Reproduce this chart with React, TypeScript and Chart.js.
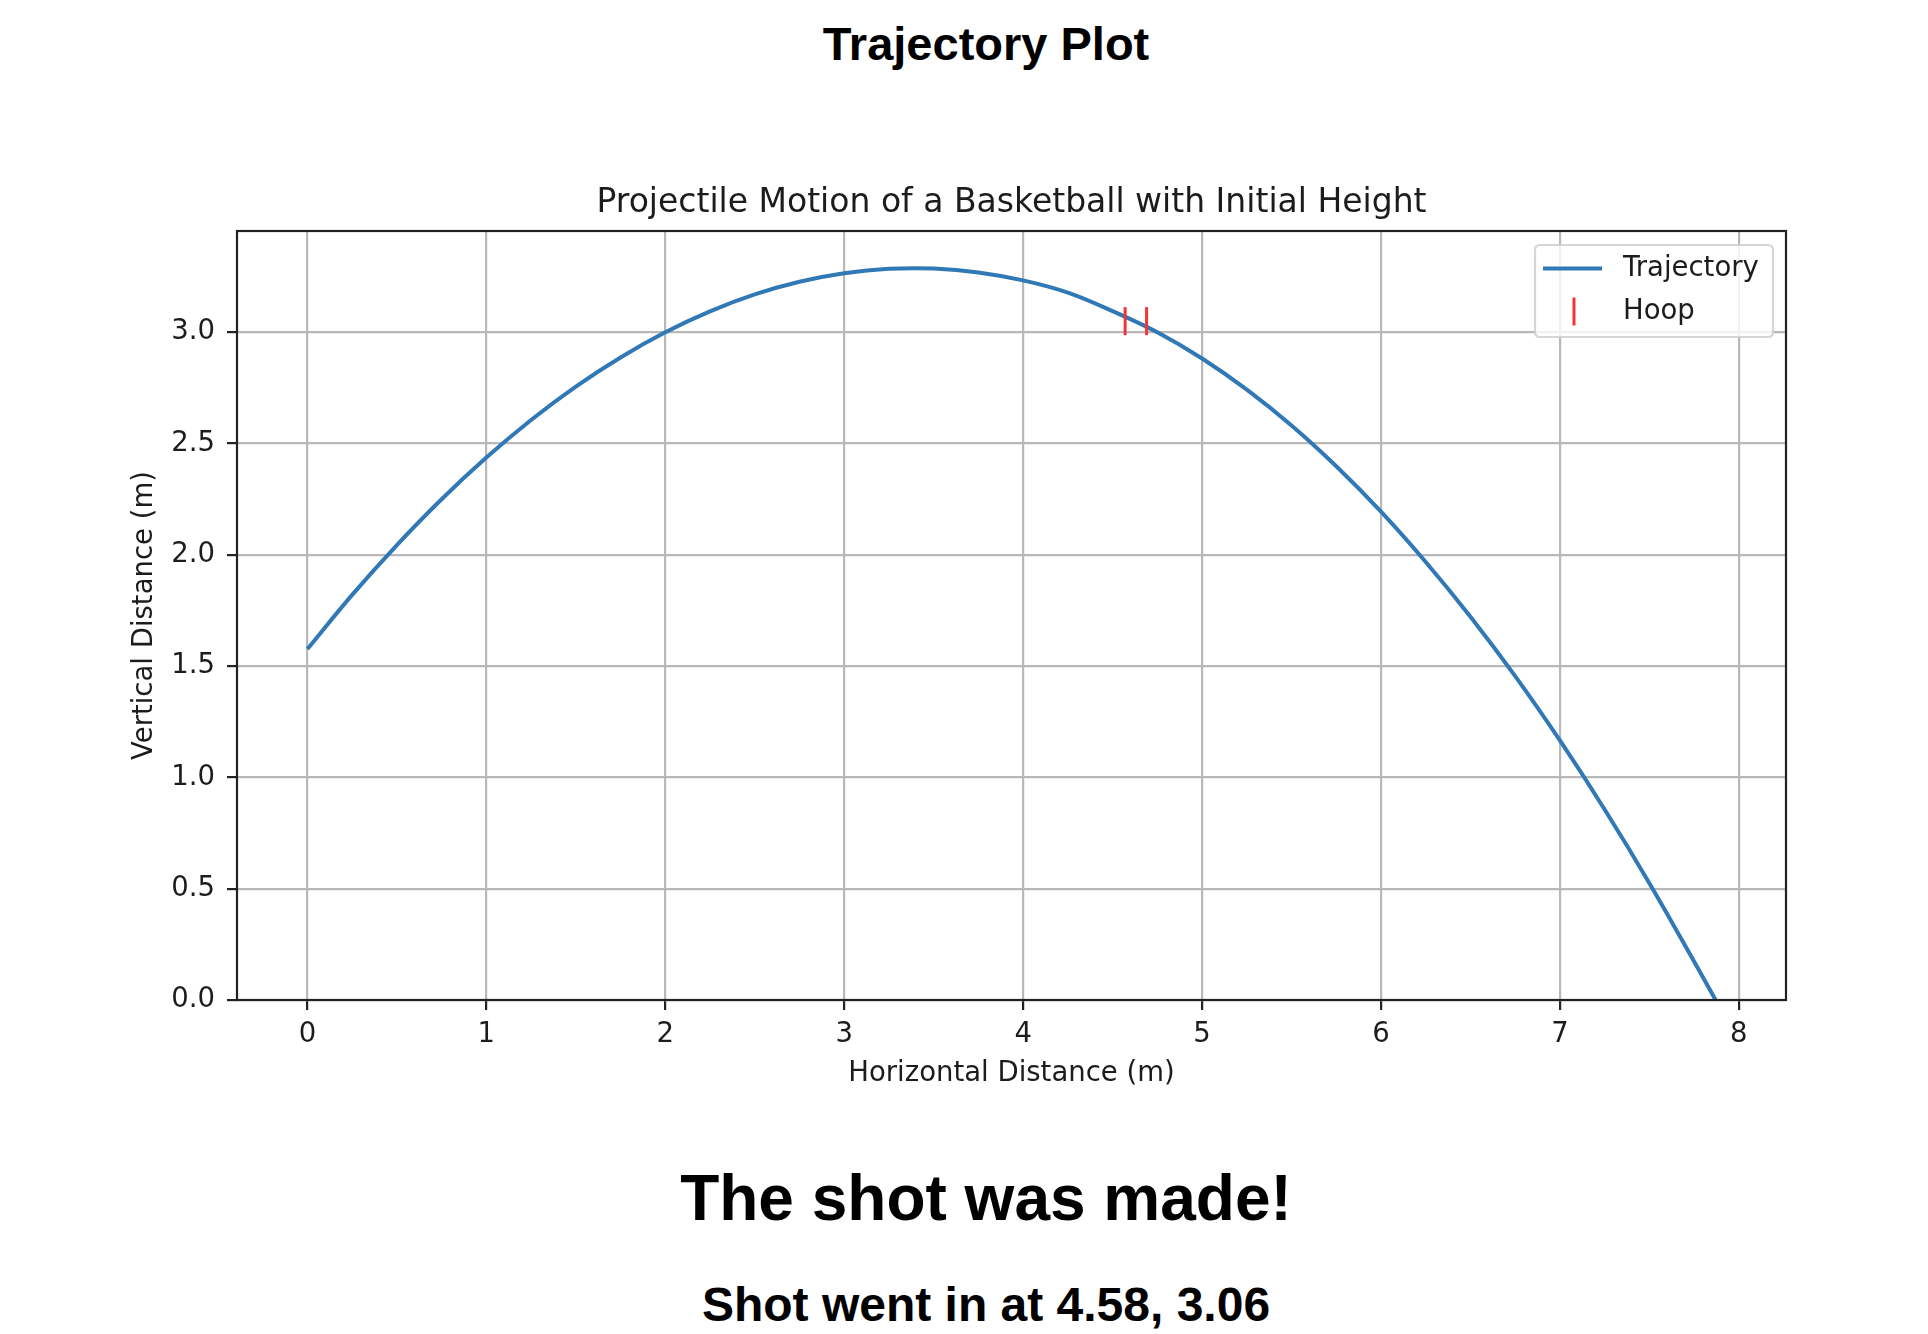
import React, { useEffect, useRef } from 'react';
import { Chart, registerables } from 'chart.js';

Chart.register(...registerables);

const PAGE_TITLE = 'Trajectory Plot';
const CHART_TITLE = 'Projectile Motion of a Basketball with Initial Height';
const X_LABEL = 'Horizontal Distance (m)';
const Y_LABEL = 'Vertical Distance (m)';
const RESULT_TEXT = 'The shot was made!';
const DETAIL_TEXT = 'Shot went in at 4.58, 3.06';
const SERIES_NAMES = ['Trajectory', 'Hoop'];

// Trajectory (metres)
const trajectoryX = [
  0, 0.25, 0.5, 0.75, 1.0, 1.25, 1.5, 1.75, 2.0, 2.25, 2.5, 2.75, 3.0, 3.25, 3.5, 3.75,
  4.0, 4.25, 4.5, 4.75, 5.0, 5.25, 5.5, 5.75, 6.0, 6.25, 6.5, 6.75, 7.0, 7.25, 7.5, 7.75, 7.87,
];
const trajectoryY = [
  1.577, 1.82, 2.044, 2.25, 2.437, 2.606, 2.756, 2.887, 3.0, 3.094, 3.17, 3.227, 3.265, 3.285, 3.286, 3.269,
  3.233, 3.178, 3.095, 3.0, 2.882, 2.742, 2.581, 2.398, 2.194, 1.968, 1.722, 1.455, 1.166, 0.856, 0.525, 0.173, 0.0,
];

// Hoop markers
const hoopX = [4.57, 4.69];
const hoopY = [3.05, 3.05];

// Axis ticks
const xTickValues = [0, 1, 2, 3, 4, 5, 6, 7, 8];
const xTickLabels = ['0', '1', '2', '3', '4', '5', '6', '7', '8'];
const yTickValues = [0, 0.5, 1.0, 1.5, 2.0, 2.5, 3.0];
const yTickLabels = ['0.0', '0.5', '1.0', '1.5', '2.0', '2.5', '3.0'];

const X_MIN = -0.3935;
const X_MAX = 8.2635;
const Y_MIN = 0;
const Y_MAX = 3.455;

const LINE_COLOR = '#3078b6';
const HOOP_COLOR = 'rgb(242, 52, 52)';
const FONT = '"DejaVu Sans", sans-serif';
const TEXT_COLOR = '#1c1c1c';
const GRID_COLOR = '#b8b8b8';
const AXIS_COLOR = '#222222';

const framePlugin = {
  id: 'mplFrameLegend',
  afterDatasetsDraw(chart: any) {
    const ctx = chart.ctx;
    const a = chart.chartArea;
    ctx.save();
    // axes frame
    ctx.strokeStyle = AXIS_COLOR;
    ctx.lineWidth = 2.2;
    ctx.strokeRect(a.left, a.top, a.right - a.left, a.bottom - a.top);

    // legend box
    const bw = 238;
    const bh = 92;
    const bx = a.right - 13 - bw;
    const by = a.top + 14;
    const r = 5;
    ctx.beginPath();
    ctx.moveTo(bx + r, by);
    ctx.lineTo(bx + bw - r, by);
    ctx.quadraticCurveTo(bx + bw, by, bx + bw, by + r);
    ctx.lineTo(bx + bw, by + bh - r);
    ctx.quadraticCurveTo(bx + bw, by + bh, bx + bw - r, by + bh);
    ctx.lineTo(bx + r, by + bh);
    ctx.quadraticCurveTo(bx, by + bh, bx, by + bh - r);
    ctx.lineTo(bx, by + r);
    ctx.quadraticCurveTo(bx, by, bx + r, by);
    ctx.closePath();
    ctx.fillStyle = 'rgba(255,255,255,0.8)';
    ctx.fill();
    ctx.strokeStyle = 'rgba(204,204,204,0.8)';
    ctx.lineWidth = 2.2;
    ctx.stroke();

    const row1 = by + 23.5;
    const row2 = by + 66.5;
    // trajectory handle
    ctx.strokeStyle = LINE_COLOR;
    ctx.lineWidth = 4;
    ctx.beginPath();
    ctx.moveTo(bx + 8, row1);
    ctx.lineTo(bx + 67, row1);
    ctx.stroke();
    // hoop handle
    ctx.strokeStyle = HOOP_COLOR;
    ctx.lineWidth = 3;
    ctx.beginPath();
    ctx.moveTo(bx + 39, row2 - 14);
    ctx.lineTo(bx + 39, row2 + 14);
    ctx.stroke();

    ctx.fillStyle = TEXT_COLOR;
    ctx.font = `27.5px ${FONT}`;
    ctx.textBaseline = 'alphabetic';
    ctx.textAlign = 'left';
    ctx.fillText(SERIES_NAMES[0], bx + 88, row1 + 7.5);
    ctx.fillText(SERIES_NAMES[1], bx + 88, row2 + 7.5);
    ctx.restore();
  },
};

export default function App() {
  const canvasRef = useRef<HTMLCanvasElement | null>(null);

  useEffect(() => {
    const canvas = canvasRef.current;
    if (!canvas) return;
    const trajectory = trajectoryX.map((x, i) => ({ x, y: trajectoryY[i] }));
    const hoop = hoopX.map((x, i) => ({ x, y: hoopY[i] }));

    const chart = new Chart(canvas, {
      type: 'line',
      data: {
        datasets: [
          {
            label: SERIES_NAMES[1],
            data: hoop,
            showLine: false,
            pointStyle: 'line',
            rotation: 90,
            pointRadius: 14,
            pointBorderWidth: 3,
            pointBorderColor: HOOP_COLOR,
            pointBackgroundColor: HOOP_COLOR,
            borderColor: HOOP_COLOR,
          } as any,
          {
            label: SERIES_NAMES[0],
            data: trajectory,
            borderColor: LINE_COLOR,
            borderWidth: 4,
            pointRadius: 0,
            tension: 0.35,
            cubicInterpolationMode: 'default',
            fill: false,
          },
        ],
      },
      options: {
        animation: false,
        responsive: false,
        maintainAspectRatio: false,
        devicePixelRatio: 1,
        layout: { padding: { left: 0, right: 142, top: 0, bottom: 0 } },
        plugins: {
          legend: { display: false },
          tooltip: { enabled: false },
          title: {
            display: true,
            text: CHART_TITLE,
            fullSize: false,
            color: TEXT_COLOR,
            font: { family: FONT, size: 33, weight: 'normal', lineHeight: 1.2 },
            padding: { top: 34, bottom: 7.4 },
          },
        },
        scales: {
          x: {
            type: 'linear',
            min: X_MIN,
            max: X_MAX,
            afterFit: (s: any) => {
              s.height = 100;
            },
            afterBuildTicks: (s: any) => {
              s.ticks = xTickValues.map((v) => ({ value: v }));
            },
            ticks: {
              color: TEXT_COLOR,
              font: { family: FONT, size: 27.5 },
              padding: 8,
              maxRotation: 0,
              autoSkip: false,
              callback: (v: any) => {
                const i = xTickValues.indexOf(Number(v));
                return i >= 0 ? xTickLabels[i] : '';
              },
            },
            grid: {
              color: GRID_COLOR,
              lineWidth: 2.2,
              tickColor: AXIS_COLOR,
              tickWidth: 2.2,
              tickLength: 10,
              drawTicks: true,
            },
            border: { display: false },
            title: {
              display: true,
              text: X_LABEL,
              color: TEXT_COLOR,
              font: { family: FONT, size: 27.5, lineHeight: 1.2 },
              padding: { top: 0, bottom: 10 },
            },
          },
          y: {
            type: 'linear',
            min: Y_MIN,
            max: Y_MAX,
            afterFit: (s: any) => {
              s.width = 237;
            },
            afterBuildTicks: (s: any) => {
              s.ticks = yTickValues.map((v) => ({ value: v }));
            },
            ticks: {
              color: TEXT_COLOR,
              font: { family: FONT, size: 27.5 },
              padding: 12,
              autoSkip: false,
              callback: (v: any) => {
                const i = yTickValues.findIndex((t) => Math.abs(t - Number(v)) < 1e-9);
                return i >= 0 ? yTickLabels[i] : '';
              },
            },
            grid: {
              color: GRID_COLOR,
              lineWidth: 2.2,
              tickColor: AXIS_COLOR,
              tickWidth: 2.2,
              tickLength: 10,
              drawTicks: true,
            },
            border: { display: false },
            title: {
              display: true,
              text: Y_LABEL,
              color: TEXT_COLOR,
              font: { family: FONT, size: 27.5, lineHeight: 1.2 },
              padding: { top: 128, bottom: 0 },
            },
          },
        },
      } as any,
      plugins: [framePlugin],
    });
    return () => chart.destroy();
  }, []);

  const heading: React.CSSProperties = {
    position: 'absolute',
    left: 486,
    width: 1000,
    margin: 0,
    textAlign: 'center',
    fontFamily: '"Liberation Sans", Arial, sans-serif',
    fontWeight: 'bold',
    color: '#000',
    whiteSpace: 'nowrap',
  };

  return (
    <div style={{ position: 'absolute', left: 0, top: 0, width: 1928, height: 1334, background: '#fff', overflow: 'hidden' }}>
      <div style={{ ...heading, top: 20, fontSize: 47, lineHeight: '47px' }}>{PAGE_TITLE}</div>
      <canvas
        ref={canvasRef}
        width={1928}
        height={950}
        style={{ position: 'absolute', left: 0, top: 150, width: 1928, height: 950, display: 'block' }}
      />
      <div style={{ ...heading, top: 1166, fontSize: 64, lineHeight: '64px' }}>{RESULT_TEXT}</div>
      <div style={{ ...heading, top: 1281, fontSize: 48, lineHeight: '48px' }}>{DETAIL_TEXT}</div>
    </div>
  );
}
